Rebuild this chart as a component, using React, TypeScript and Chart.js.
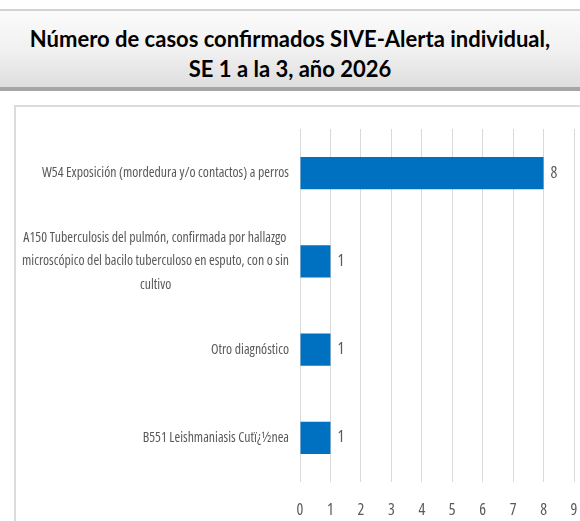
import React, { useEffect, useRef } from "react";
import { Chart, registerables } from "chart.js";

Chart.register(...registerables);

const titleLines = [
  "Número de casos confirmados SIVE-Alerta individual,",
  "SE 1 a la 3, año 2026",
];

const categories: (string | string[])[] = [
  "W54 Exposición (mordedura y/o contactos) a perros",
  [
    "A150 Tuberculosis del pulmón, confirmada por hallazgo",
    "microscópico del bacilo tuberculoso en esputo, con o sin",
    "cultivo",
  ],
  "Otro diagnóstico",
  "B551 Leishmaniasis Cutï¿½nea",
];

const values = [8, 1, 1, 1];

const xTicks = [0, 1, 2, 3, 4, 5, 6, 7, 8, 9];

const FAMILY = '"Open Sans", sans-serif';
const STRETCH = "condensed";
const CAT_SIZE = 13.8;
const NUM_SIZE = 16;
const TEXT = "#595959";

// centre the lines of a multi-line label inside its own block (Excel style),
// using trailing spaces on right-aligned tick text
const measureCtx = (() => {
  const c = document.createElement("canvas");
  return c.getContext("2d")!;
})();
function centreLines(label: string | string[]): string | string[] {
  if (!Array.isArray(label)) return label;
  measureCtx.font = `${STRETCH} ${CAT_SIZE}px ${FAMILY}`;
  const widths = label.map((l) => measureCtx.measureText(l).width);
  const maxW = Math.max(...widths);
  const spaceW = measureCtx.measureText(" ").width || 3;
  return label.map((l, i) => l + " ".repeat(Math.round((maxW - widths[i]) / 2 / spaceW)));
}

const valueLabels = {
  id: "valueLabels",
  afterDatasetsDraw(chart: any) {
    const ctx = chart.ctx;
    const meta = chart.getDatasetMeta(0);
    ctx.save();
    ctx.font = `${STRETCH} ${NUM_SIZE}px ${FAMILY}`;
    ctx.fillStyle = TEXT;
    ctx.textAlign = "left";
    ctx.textBaseline = "middle";
    meta.data.forEach((bar: any, i: number) => {
      ctx.fillText(String(values[i]), bar.x + 7, bar.y);
    });
    ctx.restore();
  },
};

export default function App() {
  const ref = useRef<HTMLCanvasElement>(null);

  useEffect(() => {
    if (!ref.current) return;
    const chart = new Chart(ref.current, {
      type: "bar",
      data: {
        labels: categories,
        datasets: [
          {
            data: values,
            backgroundColor: "#0070C0",
            borderWidth: 0,
            barPercentage: 0.363,
            categoryPercentage: 1,
          },
        ],
      },
      options: {
        indexAxis: "y",
        responsive: false,
        animation: false,
        layout: { padding: { top: 22, right: 6, left: 0, bottom: 0 } },
        plugins: {
          legend: { display: false },
          title: { display: false },
          tooltip: { enabled: false },
        },
        scales: {
          x: {
            min: 0,
            max: 9,
            afterBuildTicks: (scale: any) => {
              scale.ticks = xTicks.map((v) => ({ value: v }));
            },
            afterFit: (scale: any) => {
              scale.height = 39;
              scale.paddingLeft = 0;
              scale.paddingRight = 0;
            },
            grid: { color: "#d9d9d9", lineWidth: 1, drawTicks: false },
            border: { display: false },
            ticks: {
              font: { family: FAMILY, size: NUM_SIZE, weight: STRETCH as any },
              color: TEXT,
              padding: 19,
              maxRotation: 0,
              autoSkip: false,
            },
          },
          y: {
            afterFit: (scale: any) => {
              scale.width = 284;
              scale.paddingTop = 0;
              scale.paddingBottom = 0;
            },
            grid: { display: false, drawTicks: false },
            border: { display: false },
            ticks: {
              font: { family: FAMILY, size: CAT_SIZE, weight: STRETCH as any, lineHeight: 1.7 },
              color: TEXT,
              padding: 11,
              autoSkip: false,
              callback: function (this: any, value: any) {
                return centreLines(this.getLabelForValue(value) as any);
              },
            },
          },
        },
      },
      plugins: [valueLabels],
    });
    return () => chart.destroy();
  }, []);

  return (
    <div
      style={{
        position: "fixed",
        left: 0,
        top: 0,
        width: 580,
        height: 521,
        overflow: "hidden",
        background: "#ffffff",
      }}
    >
      <div
        style={{
          position: "absolute",
          left: 0,
          top: 9,
          width: 580,
          height: 82,
          boxSizing: "border-box",
          paddingTop: 10,
          borderTop: "2px solid #d2d2d2",
          borderBottom: "4px solid #a6a6a6",
          background: "linear-gradient(to bottom, #fbfbfb 0%, #f1f1f1 50%, #dedede 100%)",
          display: "flex",
          flexDirection: "column",
          justifyContent: "center",
          alignItems: "center",
          fontFamily: "Lato, sans-serif",
          fontWeight: 700,
          fontSize: 22,
          lineHeight: "30px",
          color: "#000000",
          textAlign: "center",
        }}
      >
        {titleLines.map((t, i) => (
          <div key={i}>{t}</div>
        ))}
      </div>
      <div
        style={{
          position: "absolute",
          left: 14,
          top: 105,
          width: 600,
          height: 500,
          borderLeft: "2px solid #dcdcdc",
          borderTop: "2px solid #dcdcdc",
        }}
      />
      <canvas
        ref={ref}
        width={564}
        height={414}
        style={{ position: "absolute", left: 16, top: 107, width: 564, height: 414 }}
      />
    </div>
  );
}
